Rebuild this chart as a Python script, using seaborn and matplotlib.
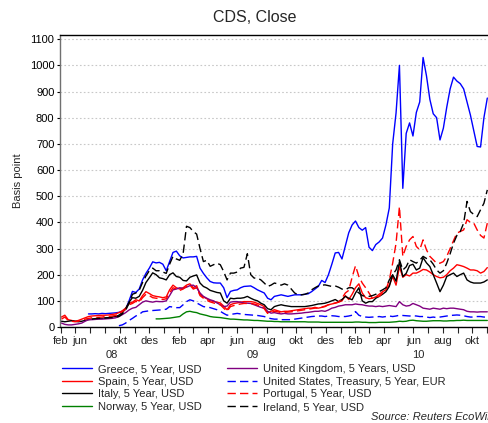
import numpy as np
import pandas as pd
import matplotlib
matplotlib.use("Agg")
import matplotlib.pyplot as plt
import matplotlib.dates as mdates
from matplotlib.lines import Line2D
import seaborn as sns

nan = float("nan")

# weekly observation dates
dates = pd.date_range("2008-06-02", periods=127, freq="7D")

greece = [nan, nan, nan, nan, nan, nan, nan, nan, 50, 50,
          51, 50, 52, 51, 52, 53, 54, 56, 60, 68,
          100, 136, 132, 145, 180, 205, 225, 249, 245, 247,
          240, 215, 250, 285, 290, 272, 264, 266, 268, 268,
          270, 225, 205, 188, 174, 169, 168, 168, 150, 112,
          136, 140, 142, 150, 155, 156, 157, 150, 142, 136,
          130, 110, 104, 117, 120, 123, 120, 117, 120, 123,
          123, 123, 125, 127, 135, 145, 155, 178, 170, 200,
          240, 283, 285, 260, 310, 360, 390, 405, 380, 370,
          380, 305, 292, 315, 325, 340, 390, 455, 700, 818,
          1000, 530, 740, 780, 730, 820, 860, 1030, 960, 870,
          815, 800, 715, 760, 840, 910, 955, 940, 930, 910,
          860, 810, 750, 690, 688, 800, 875]

spain = [38, 45, 28, 25, 22, 25, 30, 35, 40, 42,
         43, 44, 45, 45, 46, 48, 50, 55, 62, 72,
         90, 95, 104, 100, 120, 135, 128, 120, 117, 115,
         112, 115, 142, 160, 150, 145, 150, 160, 165, 150,
         158, 125, 115, 108, 100, 98, 95, 92, 80, 66,
         85, 90, 92, 95, 97, 97, 97, 95, 90, 85,
         78, 55, 60, 66, 62, 58, 60, 60, 62, 64,
         66, 68, 70, 72, 72, 75, 72, 75, 78, 85,
         88, 91, 95, 100, 120, 105, 125, 150, 165, 130,
         112, 108, 110, 115, 125, 135, 142, 160, 193, 160,
         230, 190, 200, 195, 206, 206, 212, 220, 218, 210,
         200, 193, 188, 190, 200, 215, 225, 238, 235, 231,
         225, 218, 218, 215, 206, 212, 227]

italy = [22, 20, 22, 24, 22, 20, 22, 25, 28, 30,
         30, 32, 33, 35, 36, 38, 40, 45, 55, 70,
         95, 112, 110, 117, 140, 170, 188, 207, 200, 188,
         185, 180, 200, 207, 193, 190, 178, 176, 190, 195,
         199, 168, 155, 149, 140, 136, 132, 130, 100, 91,
         110, 108, 110, 110, 112, 117, 110, 104, 100, 91,
         85, 70, 66, 78, 82, 85, 82, 80, 78, 78,
         78, 78, 78, 80, 82, 85, 88, 89, 91, 95,
         100, 105, 97, 105, 117, 110, 104, 130, 150, 100,
         91, 97, 97, 110, 117, 125, 135, 155, 200, 175,
         250, 193, 205, 235, 240, 218, 225, 265, 245, 231,
         200, 168, 135, 160, 193, 200, 206, 193, 200, 206,
         180, 172, 168, 168, 168, 172, 180]

norway = [nan, nan, nan, nan, nan, nan, nan, nan, nan, nan,
          nan, nan, nan, nan, nan, nan, nan, nan, nan, nan,
          nan, nan, nan, nan, nan, nan, nan, nan, 31, 31,
          32, 33, 34, 36, 38, 40, 50, 58, 60, 57,
          55, 50, 47, 44, 40, 38, 37, 36, 34, 32,
          30, 30, 29, 28, 27, 27, 26, 25, 25, 24,
          23, 22, 22, 21, 21, 20, 20, 20, 20, 20,
          20, 20, 20, 19, 19, 19, 19, 18, 18, 18,
          18, 18, 18, 18, 18, 18, 18, 19, 19, 18,
          18, 17, 17, 17, 18, 18, 18, 18, 19, 20,
          22, 21, 22, 25, 26, 24, 23, 22, 22, 23,
          24, 24, 24, 23, 23, 24, 24, 25, 25, 26,
          25, 25, 25, 25, 25, 25, 25]

uk = [15, 10, 8, 8, 10, 12, 15, 22, 28, 28,
      29, 30, 30, 31, 32, 33, 35, 40, 47, 55,
      65, 72, 75, 85, 95, 100, 97, 95, 98, 97,
      97, 100, 120, 142, 145, 150, 148, 152, 158, 160,
      150, 130, 117, 110, 104, 100, 92, 85, 78, 80,
      95, 97, 97, 95, 92, 91, 90, 85, 80, 75,
      72, 60, 53, 55, 52, 50, 52, 50, 50, 51,
      52, 53, 55, 56, 58, 60, 60, 62, 60, 65,
      72, 75, 80, 82, 85, 85, 85, 88, 86, 85,
      82, 80, 80, 78, 80, 78, 80, 82, 80, 78,
      97, 85, 80, 82, 90, 85, 80, 72, 70, 68,
      72, 70, 68, 72, 70, 72, 72, 70, 68, 66,
      60, 58, 58, 57, 58, 58, 58]

us = [nan, nan, nan, nan, nan, nan, nan, nan, nan, nan,
      nan, nan, nan, nan, nan, nan, nan, 5, 8, 15,
      25, 33, 42, 48, 58, 60, 62, 63, 64, 65,
      66, 68, 78, 76, 74, 74, 85, 97, 104, 100,
      92, 85, 78, 76, 74, 70, 66, 60, 52, 45,
      48, 50, 52, 50, 48, 47, 46, 45, 44, 42,
      40, 35, 32, 30, 30, 28, 28, 28, 28, 30,
      32, 34, 36, 38, 40, 41, 42, 42, 40, 42,
      43, 42, 40, 40, 40, 42, 45, 59, 45, 40,
      38, 37, 38, 38, 40, 38, 40, 42, 40, 42,
      45, 44, 43, 42, 43, 42, 40, 40, 38, 36,
      38, 36, 38, 40, 42, 44, 45, 46, 45, 43,
      40, 38, 38, 40, 40, 38, 38]

portugal = [30, 38, 25, 22, 20, 22, 26, 30, 33, 35,
            36, 37, 38, 40, 40, 42, 44, 50, 58, 68,
            85, 90, 98, 95, 112, 125, 120, 112, 110, 108,
            105, 108, 130, 150, 145, 140, 145, 155, 160, 145,
            150, 120, 110, 102, 96, 92, 88, 85, 72, 60,
            78, 82, 85, 88, 90, 90, 90, 88, 84, 78,
            70, 52, 55, 60, 58, 55, 56, 57, 58, 60,
            62, 64, 66, 68, 70, 72, 72, 76, 80, 85,
            88, 92, 95, 110, 130, 140, 190, 234, 193, 168,
            150, 130, 110, 115, 117, 130, 142, 180, 244, 320,
            460, 270, 308, 333, 346, 308, 295, 333, 295, 270,
            257, 244, 244, 250, 270, 300, 330, 359, 365, 371,
            410, 400, 397, 371, 350, 340, 397]

ireland = [nan, nan, nan, nan, nan, nan, nan, nan, nan, 30,
           32, 33, 33, 34, 35, 36, 38, 40, 50, 65,
           90, 125, 130, 140, 170, 195, 215, 225, 215, 215,
           210, 205, 240, 270, 260, 255, 280, 385, 380, 365,
           355, 300, 250, 255, 232, 238, 244, 238, 212, 180,
           206, 206, 210, 225, 228, 280, 200, 187, 187, 180,
           168, 155, 160, 168, 165, 160, 165, 160, 145, 130,
           123, 123, 125, 130, 142, 150, 157, 160, 161, 158,
           155, 157, 152, 145, 142, 150, 150, 140, 130, 120,
           117, 117, 120, 125, 135, 142, 150, 180, 200, 218,
           257, 218, 230, 257, 250, 244, 255, 270, 262, 257,
           240, 218, 206, 215, 244, 280, 320, 350, 365, 397,
           480, 441, 430, 422, 448, 473, 524]

series_names = ["Greece, 5 Year, USD", "Spain, 5 Year, USD", "Italy, 5 Year, USD",
                "Norway, 5 Year, USD", "United Kingdom, 5 Years, USD",
                "United States, Treasury, 5 Year, EUR", "Portugal, 5 Year, USD",
                "Ireland, 5 Year, USD"]
series_values = [greece, spain, italy, norway, uk, us, portugal, ireland]
series_colors = ["#0000FF", "#FF0000", "#000000", "#008000",
                 "#800080", "#0000FF", "#FF0000", "#000000"]
series_dashed = [False, False, False, False, False, True, True, True]

month_label_dates = ["2008-05-31", "2008-07-10", "2008-10-01", "2008-12-01",
                     "2009-02-01", "2009-04-01", "2009-06-01", "2009-08-01",
                     "2009-10-01", "2009-12-01", "2010-02-01", "2010-04-01",
                     "2010-06-01", "2010-08-01", "2010-10-01"]
month_labels = ["feb", "jun", "okt", "des", "feb", "apr", "jun", "aug",
                "okt", "des", "feb", "apr", "jun", "aug", "okt"]
year_labels = ["08", "09", "10"]

# ---- build long table ----
frames = []
for name, vals in zip(series_names, series_values):
    frames.append(pd.DataFrame({"date": dates, "value": vals, "series": name}))
df = pd.concat(frames, ignore_index=True).dropna()

sns.set_style("white")
plt.rcParams["font.family"] = ["Liberation Sans", "DejaVu Sans"]

fig = plt.figure(figsize=(4.88, 4.23), dpi=100)
W, H = 488, 423
ax_l, ax_r, ax_t, ax_b = 60, 496, 35, 327
ax = fig.add_axes([ax_l / W, 1 - ax_b / H, (ax_r - ax_l) / W, (ax_b - ax_t) / H])

palette = dict(zip(series_names, series_colors))
dash_map = {n: ((6, 3) if d else "") for n, d in zip(series_names, series_dashed)}
sns.lineplot(data=df, x="date", y="value", hue="series", style="series",
             hue_order=series_names, style_order=series_names,
             palette=palette, dashes=dash_map, estimator=None, sort=True,
             linewidth=1.0, legend=False, ax=ax)

ax.set_xlim(pd.Timestamp("2008-05-30"), pd.Timestamp("2010-11-19"))
ax.set_ylim(0, 1116)
ax.set_xlabel("")
ax.set_ylabel("")
fig.text(18 / W, 1 - 181 / H, "Basis point", rotation=90, ha="center", va="center",
         fontsize=8)
ax.set_yticks(range(0, 1101, 100))
ax.tick_params(axis="y", labelsize=8, length=2.5, width=0.8, pad=1.5,
               direction="out", left=True, colors="black")

month_ticks = pd.date_range("2008-06-01", "2010-11-01", freq="MS")
ax.set_xticks(month_ticks)
ax.set_xticklabels([""] * len(month_ticks))
year_ticks = pd.to_datetime(["2009-01-01", "2010-01-01"])
ax.set_xticks(year_ticks, minor=True)
ax.tick_params(axis="x", which="major", length=4, width=0.8, direction="out", bottom=True)
ax.tick_params(axis="x", which="minor", length=8, width=0.8, direction="out", bottom=True)

for d, lab in zip(month_label_dates, month_labels):
    ax.annotate(lab, xy=(mdates.date2num(pd.Timestamp(d)), 0),
                xycoords=("data", "axes fraction"), xytext=(0, -10.3),
                textcoords="offset points", ha="center", va="center", fontsize=8)

x0, x1 = ax.get_xlim()
bounds = [x0, mdates.date2num(pd.Timestamp("2009-01-01")),
          mdates.date2num(pd.Timestamp("2010-01-01")), x1]
for i, lab in enumerate(year_labels):
    cx = (bounds[i] + bounds[i + 1]) / 2
    ax.annotate(lab, xy=(cx, 0), xycoords=("data", "axes fraction"),
                xytext=(0, -20.3), textcoords="offset points",
                ha="center", va="center", fontsize=8)

ax.grid(False)
ax.yaxis.grid(True, which="major", color="#c8c8c8", linestyle=(0, (1.5, 2)), linewidth=0.8)
ax.xaxis.grid(True, which="minor", color="#c8c8c8", linestyle=(0, (1.5, 2)), linewidth=0.8)
ax.set_axisbelow(True)

for s in ["top", "bottom", "right"]:
    ax.spines[s].set_color("black")
    ax.spines[s].set_linewidth(1.0)
ax.spines["left"].set_color("#707070")
ax.spines["left"].set_linewidth(1.0)

fig.text(255 / W, 1 - 18 / H, "CDS, Close", ha="center", va="center", fontsize=11.5)


def make_handles(idx):
    hs = []
    for i in idx:
        hs.append(Line2D([], [], color=series_colors[i], linewidth=1.0,
                         linestyle=(0, (6, 3)) if series_dashed[i] else "-"))
    return hs


leg_kw = dict(frameon=False, fontsize=8, handlelength=2.7, handletextpad=0.55,
              labelspacing=0.24, borderpad=0, borderaxespad=0, loc="upper left")
leg1 = fig.legend(make_handles([0, 1, 2, 3]), series_names[:4],
                  bbox_to_anchor=(62 / W, 1 - 364 / H), **leg_kw)
leg2 = fig.legend(make_handles([4, 5, 6, 7]), series_names[4:],
                  bbox_to_anchor=(227 / W, 1 - 364 / H), **leg_kw)

fig.text(371 / W, 1 - 417 / H, "Source: Reuters EcoWin", ha="left", va="center",
         fontsize=8, style="italic")

fig.savefig("out.png", dpi=100)
